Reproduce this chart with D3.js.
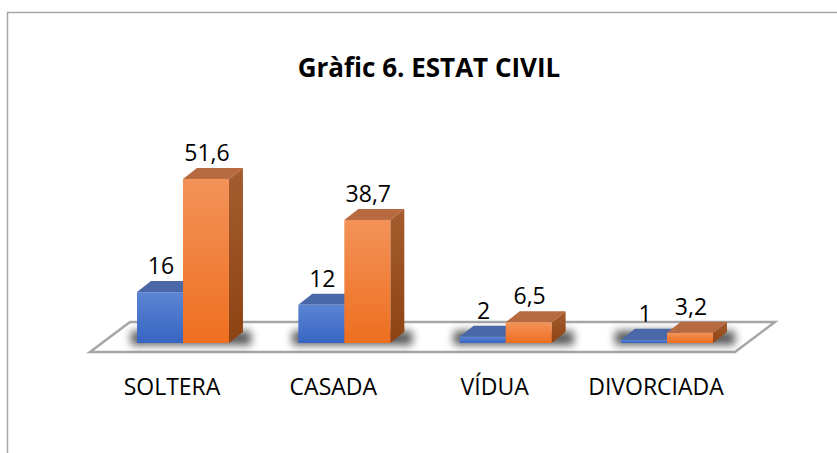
<!DOCTYPE html>
<html>
<head>
<meta charset="utf-8">
<script src="https://cdn.jsdelivr.net/npm/d3@7"></script>
<style>
  body { margin: 0; background: #fff; }
  text { font-family: "Open Sans", sans-serif; fill: #000; }
</style>
</head>
<body>
<div id="chart"></div>
<script>
// Data
const categories = ['SOLTERA', 'CASADA', 'VÍDUA', 'DIVORCIADA'];
const series = ['s1', 's2'];
const values1 = [16, 12, 2, 1];
const values2 = [51.6, 38.7, 6.5, 3.2];
const title = 'Gràfic 6. ESTAT CIVIL';

const width = 837;
const height = 453;
const base = 343;           // bottom of the bar front faces
const depth = { dx: 14, dy: -11 };

const svg = d3.select('#chart')
  .append('svg')
  .attr('width', width)
  .attr('height', height);

// gradients
const defs = svg.append('defs');
function grad(id, c1, c2) {
  const g = defs.append('linearGradient').attr('id', id)
    .attr('x1', 0).attr('y1', 0).attr('x2', 0).attr('y2', 1);
  g.append('stop').attr('offset', '0%').attr('stop-color', c1);
  g.append('stop').attr('offset', '100%').attr('stop-color', c2);
}
grad('blueFront', '#5b84d3', '#3765c3');
grad('orangeFront', '#f39259', '#ee6f1f');
grad('orangeSide', '#a45c30', '#8e4312');
defs.append('filter').attr('id', 'blur')
  .attr('x', '-50%').attr('y', '-100%').attr('width', '200%').attr('height', '300%')
  .append('feGaussianBlur').attr('stdDeviation', 4);

// chart border
svg.append('path')
  .attr('d', `M7.5,${height} V12.5 H${width}`)
  .attr('fill', 'none')
  .attr('stroke', '#a6a6a6')
  .attr('stroke-width', 1.5);

// title
svg.append('text')
  .attr('x', 429)
  .attr('y', 77)
  .attr('text-anchor', 'middle')
  .style('font-weight', 'bold')
  .style('font-size', '26px')
  .text(title);

// scales
const x = d3.scaleBand()
  .domain(categories)
  .range([137, 713])
  .paddingInner(0.43)
  .paddingOuter(0);

const xSub = d3.scaleBand()
  .domain(series)
  .range([0, x.bandwidth()]);

const y = d3.scaleLinear()
  .domain([0, 60])
  .range([base, base - 60 * 3.18]);

// floor
svg.append('polygon')
  .attr('points', [[90, 352], [130, 322], [775, 322], [735, 352]].join(' '))
  .attr('fill', '#fff')
  .attr('stroke', '#a6a6a6')
  .attr('stroke-width', 2.5);

const rows = categories.map((c, i) => ({ cat: c, v: [values1[i], values2[i]] }));

// shadows under the bars
svg.selectAll('.shadow')
  .data(rows)
  .enter()
  .append('rect')
  .attr('class', 'shadow')
  .attr('x', d => x(d.cat) - 6)
  .attr('y', base - 12)
  .attr('width', x.bandwidth() + depth.dx + 14)
  .attr('height', 14)
  .attr('fill', '#000')
  .attr('opacity', 0.65)
  .attr('filter', 'url(#blur)');

const styles = [
  { front: 'url(#blueFront)', top: '#4a68a8', side: '#2f4f91' },
  { front: 'url(#orangeFront)', top: '#b7693f', side: 'url(#orangeSide)' }
];

const groups = svg.selectAll('.cat')
  .data(rows)
  .enter()
  .append('g')
  .attr('class', 'cat')
  .attr('transform', d => `translate(${x(d.cat)},0)`);

series.forEach((s, k) => {
  const w = xSub.bandwidth();
  const bars = groups.append('g');
  // side face
  bars.append('polygon')
    .attr('points', d => {
      const x0 = xSub(s) + w, t = y(d.v[k]);
      return [[x0, t], [x0 + depth.dx, t + depth.dy], [x0 + depth.dx, base + depth.dy], [x0, base]].join(' ');
    })
    .attr('fill', styles[k].side);
  // top face
  bars.append('polygon')
    .attr('points', d => {
      const x0 = xSub(s), t = y(d.v[k]);
      return [[x0, t], [x0 + depth.dx, t + depth.dy], [x0 + w + depth.dx, t + depth.dy], [x0 + w, t]].join(' ');
    })
    .attr('fill', styles[k].top);
  // front face
  bars.append('rect')
    .attr('x', xSub(s))
    .attr('y', d => y(d.v[k]))
    .attr('width', w)
    .attr('height', d => base - y(d.v[k]))
    .attr('fill', styles[k].front);
  // value label
  bars.append('text')
    .attr('x', xSub(s) + w / 2 + 1)
    .attr('y', d => y(d.v[k]) - 18)
    .attr('text-anchor', 'middle')
    .style('font-size', '23px')
    .text(d => String(d.v[k]).replace('.', ','));
});

// category labels
svg.selectAll('.catLabel')
  .data(categories)
  .enter()
  .append('text')
  .attr('class', 'catLabel')
  .attr('x', d => x(d) + x.bandwidth() / 2 - 11)
  .attr('y', 395)
  .attr('text-anchor', 'middle')
  .style('font-size', '23px')
  .text(d => d);
</script>
</body>
</html>
